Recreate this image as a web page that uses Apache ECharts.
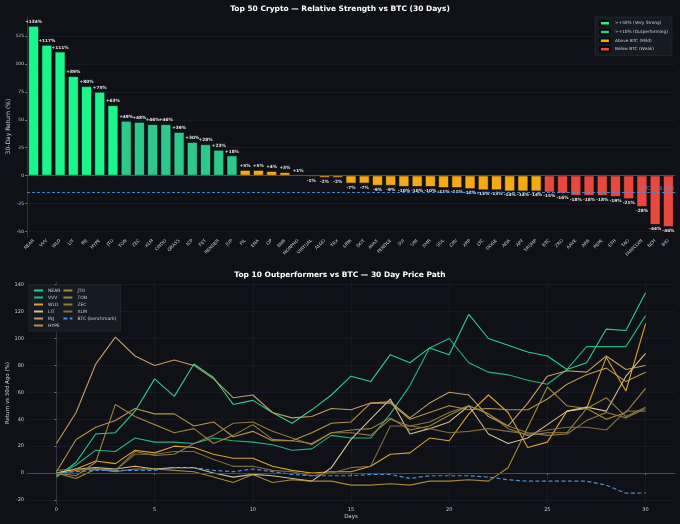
<!DOCTYPE html>
<html>
<head>
<meta charset="utf-8">
<script src="https://cdn.jsdelivr.net/npm/echarts@6/dist/echarts.min.js"></script>
<style>
  html, body { margin: 0; padding: 0; background: #0f1117; }
  #main { width: 680px; height: 524px; }
</style>
</head>
<body>
<div id="main"></div>
<script>
// top chart: 30 day return per coin
var coins = ['NEAR','VVV','WLD','LIT','INJ','HYPE','JTO','TON','ZEC','XLM','ONDO','GRASS','ICP','FET','RENDER','JUP',
  'FIL','ENA','OP','BNB','MORPHO','VIRTUAL','ALGO','TRX','LINK','DOT','AVAX','PENDLE','SUI','UNI','XMR','SOL','CRV',
  'XRP','LTC','DOGE','ADA','APT','TRUMP','BTC','ZRO','AAVE','ARB','PEPE','ETH','TAO','FARTCOIN','BCH','BIO'];
var returns = [134,117,111,89,80,75,63,49,48,46,46,39,30,28,23,18,
  5,5,4,3,1,-1,-2,-2,-7,-7,-9,-9,-10,-10,-10,-11,-11,
  -12,-13,-13,-14,-14,-14,-15,-16,-18,-18,-18,-19,-21,-28,-44,-46];
var btcReturn = -14.8;

// bottom chart: daily path of top 10
var days = [0,1,2,3,4,5,6,7,8,9,10,11,12,13,14,15,16,17,18,19,20,21,22,23,24,25,26,27,28,29,30];
var near = [-3,8,29,30,46,70,57,81,71,51,54,45,37,47,58,72,68,88,82,93,88,118,100,95,90,87,77,82,107,106,134];
var vvv  = [-2,6,17,16,26,23,23,22,26,24,23,21,17,18,28,26,26,44,65,93,100,82,75,73,69,66,77,94,94,94,117];
var wld  = [0,3,9,7,17,15,20,19,14,11,11,5,2,0,1,1,5,14,15,26,24,44,58,45,19,23,46,48,86,61,111];
var lit  = [0,3,4,3,5,3,4,4,0,-3,-1,-2,-4,-6,4,25,40,55,29,33,38,50,29,22,26,36,46,49,46,72,89];
var inj  = [22,45,81,101,87,80,84,80,70,56,58,45,41,42,48,47,52,53,41,52,60,58,42,35,52,72,76,75,87,77,80];
var hype = [1,25,34,39,48,44,44,35,38,27,31,24,24,30,37,38,52,52,40,45,50,47,48,47,47,55,66,73,78,68,75];
var jto  = [0,-4,3,1,3,3,2,1,-3,-7,-1,-7,-5,-6,-6,-9,-9,-8,-9,-6,-6,-5,-6,4,34,64,50,48,40,45,63];
var ton  = [0,-2,8,51,42,36,30,33,22,28,36,25,24,22,30,32,33,41,32,35,43,50,44,33,28,30,30,48,56,42,49];
var zec  = [-1,2,3,2,16,13,14,22,28,37,38,31,26,21,30,30,28,40,35,38,45,50,44,35,30,28,29,39,45,41,48];
var xlm  = [2,3,3,2,14,14,16,16,10,5,5,2,1,-2,0,4,5,35,35,33,30,31,33,31,29,32,34,34,32,46,46];
var btc  = [0,1,2,2,2,2,4,4,2,1,3,1,-1,-2,-2,-2,-1,-1,-4,-2,-2,-2,-3,-5,-6,-6,-6,-6,-9,-15,-14.8];

var topYTicks = [-50,-25,0,25,50,75,100,125];
var botYTicks = [-20,0,20,40,60,80,100,120,140];
var botXTicks = [0,5,10,15,20,25,30];

var txt = '#c8ccd4', gridCol = '#1d2230', axisCol = '#3a3f4a';
var font = 'DejaVu Sans';

var classes = [
  { name: '>+50% (Very Strong)', color: '#1af58c', test: function (v) { return v > 50; } },
  { name: '>+10% (Outperforming)', color: '#2dc98a', test: function (v) { return v > 10 && v <= 50; } },
  { name: 'Above BTC (Mild)', color: '#f5aa14', test: function (v) { return v <= 10 && v > btcReturn; } },
  { name: 'Below BTC (Weak)', color: '#e8493f', test: function (v) { return v <= btcReturn; } }
];

var barSeries = classes.map(function (c, ci) {
  return {
    name: c.name, type: 'bar', xAxisIndex: 0, yAxisIndex: 0,
    barWidth: '80%', barGap: '-100%',
    itemStyle: { color: c.color, borderColor: '#08090c', borderWidth: 0.6 },
    data: returns.map(function (v) {
      if (!c.test(v)) return '-';
      return { value: v, label: { position: v >= 0 ? 'top' : 'bottom' } };
    }),
    label: {
      show: true, fontSize: 4.3, fontWeight: 'bold', color: '#e6e6e6', distance: 2, fontFamily: font,
      formatter: function (p) { return (p.value > 0 ? '+' : '') + p.value + '%'; }
    },
    markLine: ci === 0 ? {
      silent: true, symbol: 'none',
      data: [
        { yAxis: 0, lineStyle: { color: '#5a5f6a', width: 0.7, type: 'solid' }, label: { show: false } },
        { yAxis: btcReturn, lineStyle: { color: '#4a8fd9', width: 0.9, type: [3, 2] },
          label: { show: true, position: 'insideEndTop', formatter: 'BTC (' + btcReturn + '%)', color: '#4a8fd9', fontSize: 5, distance: 1 } }
      ]
    } : undefined
  };
});

var lineNames = ['NEAR','VVV','WLD','LIT','INJ','HYPE','JTO','TON','ZEC','XLM'];
var lineData = [near, vvv, wld, lit, inj, hype, jto, ton, zec, xlm];
var lineColors = ['#2fe39a','#2ec48a','#f2b230','#e8cfa0','#d9a86e','#c9a050','#b8963c','#ab8d44','#9c8445','#8c7442'];

var lineSeries = lineNames.map(function (n, i) {
  return {
    name: n, type: 'line', xAxisIndex: 1, yAxisIndex: 1, symbol: 'none',
    lineStyle: { width: 1.1, color: lineColors[i], opacity: 0.9 },
    itemStyle: { color: lineColors[i] },
    data: days.map(function (d, k) { return [d, lineData[i][k]]; })
  };
});
lineSeries.push({
  name: 'BTC (benchmark)', type: 'line', xAxisIndex: 1, yAxisIndex: 1, symbol: 'none',
  lineStyle: { width: 1.2, color: '#4a8fd9', type: [4, 2.5] },
  itemStyle: { color: '#4a8fd9' },
  data: days.map(function (d, k) { return [d, btc[k]]; }),
  markLine: {
    silent: true, symbol: 'none', label: { show: false },
    lineStyle: { color: '#4a4f5a', width: 0.8, type: 'solid' },
    data: [{ yAxis: 0 }]
  }
});

var chart = echarts.init(document.getElementById('main'));
chart.setOption({
  backgroundColor: '#0f1117',
  animation: false,
  textStyle: { fontFamily: font },
  title: [
    { text: 'Top 50 Crypto — Relative Strength vs BTC (30 Days)', left: 'center', top: 0,
      textStyle: { color: '#ffffff', fontSize: 7.5, fontWeight: 'bold', fontFamily: font } },
    { text: 'Top 10 Outperformers vs BTC — 30 Day Price Path', left: 'center', top: 266,
      textStyle: { color: '#ffffff', fontSize: 7.5, fontWeight: 'bold', fontFamily: font } }
  ],
  legend: [
    { data: classes.map(function (c) { return c.name; }), orient: 'vertical', right: 8, top: 17,
      itemWidth: 10, itemHeight: 4.5, itemGap: 2.2, padding: [3, 4],
      backgroundColor: '#161a22', borderColor: '#2a2f3a', borderWidth: 0.6,
      textStyle: { color: txt, fontSize: 4.3, fontFamily: font } },
    { data: lineNames.concat(['BTC (benchmark)']), orient: 'vertical', left: 29, top: 285, height: 40,
      itemWidth: 9, itemHeight: 4.8, itemGap: 2, padding: [3, 4],
      itemStyle: { opacity: 0 },
      backgroundColor: '#161a22', borderColor: '#2a2f3a', borderWidth: 0.6,
      textStyle: { color: txt, fontSize: 4.5, fontFamily: font } }
  ],
  grid: [
    { left: 27, right: 5, top: 16, height: 221, outerBoundsMode: 'none' },
    { left: 27, right: 5, top: 282, height: 222, outerBoundsMode: 'none' }
  ],
  xAxis: [
    { gridIndex: 0, type: 'category', data: coins,
      axisLine: { lineStyle: { color: axisCol, width: 0.7 } },
      axisTick: { alignWithLabel: true, length: 2, lineStyle: { color: '#777' } },
      axisLabel: { color: txt, fontSize: 4.5, rotate: 45, interval: 0, margin: 3 } },
    { gridIndex: 1, type: 'value', min: -1.5, max: 31.5,
      name: 'Days', nameLocation: 'middle', nameGap: 10, nameMoveOverlap: false,
      nameTextStyle: { color: txt, fontSize: 5.5 },
      axisLine: { lineStyle: { color: axisCol, width: 0.7 } },
      axisTick: { customValues: botXTicks, length: 2, lineStyle: { color: '#777' } },
      axisLabel: { customValues: botXTicks, color: txt, fontSize: 5, margin: 3 },
      splitLine: { show: true, lineStyle: { color: gridCol, width: 0.6 } } }
  ],
  yAxis: [
    { gridIndex: 0, type: 'value', min: -55, max: 143,
      name: '30-Day Return (%)', nameLocation: 'middle', nameGap: 16, nameMoveOverlap: false,
      nameTextStyle: { color: txt, fontSize: 6 },
      axisLine: { show: true, lineStyle: { color: axisCol, width: 0.7 } },
      axisTick: { show: true, customValues: topYTicks, length: 2, lineStyle: { color: '#777' } },
      axisLabel: { customValues: topYTicks, color: txt, fontSize: 4.5, margin: 3 },
      splitLine: { show: true, lineStyle: { color: gridCol, width: 0.6 } } },
    { gridIndex: 1, type: 'value', min: -23, max: 142,
      name: 'Return vs 30d Ago (%)', nameLocation: 'middle', nameGap: 16, nameMoveOverlap: false,
      nameTextStyle: { color: txt, fontSize: 5.5 },
      axisLine: { show: true, lineStyle: { color: axisCol, width: 0.7 } },
      axisTick: { show: true, customValues: botYTicks, length: 2, lineStyle: { color: '#777' } },
      axisLabel: { customValues: botYTicks, color: txt, fontSize: 5, margin: 3 },
      splitLine: { show: true, lineStyle: { color: gridCol, width: 0.6 } } }
  ],
  series: barSeries.concat(lineSeries)
});
</script>
</body>
</html>
